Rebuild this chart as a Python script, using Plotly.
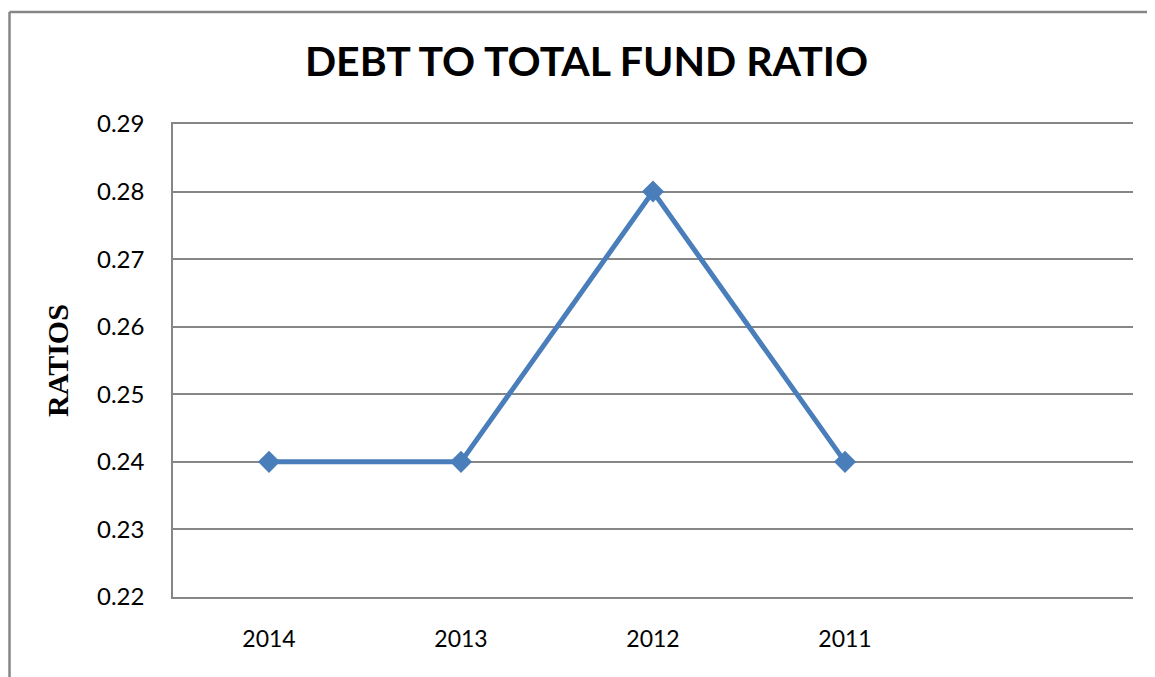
import plotly.graph_objects as go

years = ["2014", "2013", "2012", "2011"]
ratios = [0.24, 0.24, 0.28, 0.24]
y_ticks = [0.22, 0.23, 0.24, 0.25, 0.26, 0.27, 0.28, 0.29]
title_text = "DEBT TO TOTAL FUND RATIO"
y_title = "RATIOS"

OFF = 8  # default page body margin
W, H = 1155 - OFF, 677 - OFF
L, R, T, B = 173 - OFF, 22, 124 - OFF, 80
pw, ph = W - L - R, H - T - B

x_pos = list(range(len(years)))

fig = go.Figure()
fig.add_trace(go.Scatter(
    x=x_pos, y=ratios, mode="lines+markers",
    line=dict(color="#4A7EBB", width=5),
    marker=dict(symbol="diamond", size=17, color="#4A7EBB"),
    showlegend=False, cliponaxis=False,
))

gray = "#868686"
bx0 = (9.5 - 173) / pw
by1 = (597 - 12) / ph
fig.update_layout(
    width=W, height=H,
    margin=dict(l=L, r=R, t=T, b=B, pad=0),
    paper_bgcolor="white", plot_bgcolor="white",
    title=dict(text=f"<b>{title_text}</b>", x=(586.5 - OFF) / W,
               xanchor="center", y=1 - (62 - OFF) / H, yanchor="middle",
               font=dict(family="Lato", size=41, color="black")),
    xaxis=dict(
        range=[-0.5, 4.5], tickvals=x_pos, ticktext=years,
        showgrid=False, zeroline=False, showline=True, mirror=True,
        linecolor=gray, linewidth=1.5,
        ticks="outside", ticklen=21, tickcolor="rgba(0,0,0,0)",
        tickfont=dict(family="Lato", size=23, color="black"),
    ),
    yaxis=dict(
        range=[0.22, 0.29], tickvals=y_ticks,
        ticktext=[f"{v:.2f}" for v in y_ticks],
        showgrid=True, gridcolor=gray, gridwidth=1.5,
        zeroline=False, showline=True, linecolor=gray, linewidth=1.5,
        ticks="outside", ticklen=22, tickcolor="rgba(0,0,0,0)",
        tickfont=dict(family="Lato", size=24, color="black"),
        title=dict(text=f"<b>{y_title}</b>", standoff=20,
                   font=dict(family="Liberation Serif", size=30, color="black")),
    ),
    shapes=[
        dict(type="line", xref="paper", yref="paper",
             x0=bx0, x1=1.5, y0=by1, y1=by1,
             line=dict(color=gray, width=2.5), layer="below"),
        dict(type="line", xref="paper", yref="paper",
             x0=bx0, x1=bx0, y0=-0.5, y1=by1,
             line=dict(color=gray, width=2.5), layer="below"),
    ],
)

fig.write_html("out.html")
